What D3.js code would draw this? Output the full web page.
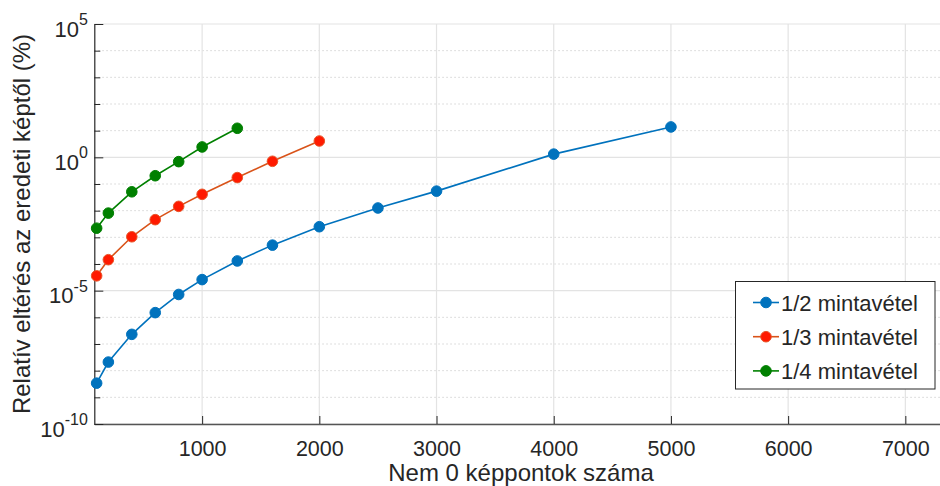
<!DOCTYPE html>
<html>
<head>
<meta charset="utf-8">
<script src="https://cdn.jsdelivr.net/npm/d3@7"></script>
<style>
  html, body { margin: 0; padding: 0; background: #fff; }
  svg { display: block; font-family: "Liberation Sans", Arial, sans-serif; }
</style>
</head>
<body>
<svg id="chart" width="940" height="486"></svg>
<script>
const svg = d3.select("#chart");
const width = 940;
const height = 486;

const margin = {
    "T": 24,
    "B": 62,
    "R": 0,
    "L": 94.3,
};

// ---- DATA ---- //

const seriesNames = ["1/2 mintavétel", "1/3 mintavétel", "1/4 mintavétel"];

const xHalf = [100, 200, 400, 600, 800, 1000, 1300, 1600, 2000, 2500, 3000, 4000, 5000];
const yHalf = [3.4e-9, 2.1e-8, 2.3e-7, 1.5e-6, 7.2e-6, 2.6e-5, 1.3e-4, 5.1e-4, 2.5e-3, 1.26e-2, 5.4e-2, 1.32, 13.8];

const xThird = [100, 200, 400, 600, 800, 1000, 1300, 1600, 2000];
const yThird = [3.6e-5, 1.45e-4, 1.05e-3, 4.6e-3, 1.45e-2, 4.1e-2, 0.174, 0.71, 4.1];

const xQuarter = [100, 200, 400, 600, 800, 1000, 1300];
const yQuarter = [2.2e-3, 8.1e-3, 5.1e-2, 0.204, 0.69, 2.45, 12.3];

const xTicks = [1000, 2000, 3000, 4000, 5000, 6000, 7000];
const yMajorExp = [-10, -5, 0, 5];
const yMinorExp = [-9, -8, -7, -6, -4, -3, -2, -1, 1, 2, 3, 4];

const xLabel = "Nem 0 képpontok száma";
const yLabel = "Relatív eltérés az eredeti képtől (%)";

const series = [
    { name: seriesNames[0], xs: xHalf, ys: yHalf, line: "#0072BD", fill: "#0072BD", edge: "#0072BD" },
    { name: seriesNames[1], xs: xThird, ys: yThird, line: "#D95319", fill: "#FF1A00", edge: "#E8562A" },
    { name: seriesNames[2], xs: xQuarter, ys: yQuarter, line: "#008000", fill: "#008000", edge: "#008000" },
];

// ---- SCALES ---- //

const xScale = d3.scaleLinear()
    .domain([80, 7300])
    .range([margin.L, 940.5]);
const yScale = d3.scaleLog()
    .domain([1e-10, 1e5])
    .range([height - margin.B, margin.T]);

const plotL = margin.L;
const plotR = 945;
const plotT = margin.T;
const plotB = height - margin.B;

// ---- GRID ---- //

const grid = svg.append("g");

yMinorExp.forEach(e => {
    grid.append("line")
        .attr("x1", plotL).attr("x2", plotR)
        .attr("y1", yScale(Math.pow(10, e))).attr("y2", yScale(Math.pow(10, e)))
        .attr("stroke", "#d4d4d4")
        .attr("stroke-width", 1)
        .attr("stroke-dasharray", "1.5,2.5");
});
yMajorExp.forEach(e => {
    grid.append("line")
        .attr("x1", plotL).attr("x2", plotR)
        .attr("y1", yScale(Math.pow(10, e))).attr("y2", yScale(Math.pow(10, e)))
        .attr("stroke", "#e3e3e3")
        .attr("stroke-width", 1.2);
});
xTicks.forEach(t => {
    grid.append("line")
        .attr("x1", xScale(t)).attr("x2", xScale(t))
        .attr("y1", plotT).attr("y2", plotB)
        .attr("stroke", "#e3e3e3")
        .attr("stroke-width", 1.2);
});

// ---- AXES ---- //

const xAxis = d3.axisBottom(xScale)
    .tickValues(xTicks)
    .tickSize(-8)
    .tickSizeOuter(0)
    .tickPadding(17)
    .tickFormat(d3.format("d"));

const gx = svg.append("g")
    .attr("transform", `translate(0, ${plotB})`)
    .call(xAxis);
gx.select(".domain").attr("stroke", "#555").attr("stroke-width", 1.4);
gx.selectAll(".tick line").attr("stroke", "#262626");
gx.selectAll(".tick text")
    .attr("fill", "#262626")
    .style("font-size", "21.5px")
    .attr("dy", "0.71em");

const yMinorAxis = d3.axisLeft(yScale)
    .tickValues(yMinorExp.map(e => Math.pow(10, e)))
    .tickSize(-6)
    .tickSizeOuter(0)
    .tickFormat("");
const gyMinor = svg.append("g")
    .attr("transform", `translate(${plotL}, 0)`)
    .call(yMinorAxis);
gyMinor.select(".domain").remove();
gyMinor.selectAll(".tick line").attr("stroke", "#262626");

const yAxis = d3.axisLeft(yScale)
    .tickValues(yMajorExp.map(e => Math.pow(10, e)))
    .tickSize(-9)
    .tickSizeOuter(0)
    .tickPadding(6)
    .tickFormat("");
const gy = svg.append("g")
    .attr("transform", `translate(${plotL}, 0)`)
    .call(yAxis);
gy.select(".domain").attr("stroke", "#262626").attr("stroke-width", 1.2);
gy.selectAll(".tick line").attr("stroke", "#262626");

// 10^n labels
gy.selectAll(".tick").each(function(d) {
    const e = Math.round(Math.log10(d));
    const t = d3.select(this).append("text")
        .attr("x", -6.5)
        .attr("y", 12)
        .attr("fill", "#262626")
        .attr("text-anchor", "end");
    t.append("tspan")
        .style("font-size", "22px")
        .text("10");
    t.append("tspan")
        .attr("dy", -11.5)
        .style("font-size", "16px")
        .text(e);
});

// ---- LINES ---- //

const line = d3.line()
    .x(d => xScale(d[0]))
    .y(d => yScale(d[1]));

series.forEach(s => {
    const pts = s.xs.map((x, i) => [x, s.ys[i]]);
    svg.append("path")
        .attr("d", line(pts))
        .attr("fill", "none")
        .attr("stroke", s.line)
        .attr("stroke-width", 1.6);
    svg.append("g")
        .selectAll("circle")
        .data(pts)
        .enter()
        .append("circle")
            .attr("cx", d => xScale(d[0]))
            .attr("cy", d => yScale(d[1]))
            .attr("r", 5.3)
            .attr("fill", s.fill)
            .attr("stroke", s.edge)
            .attr("stroke-width", 1);
});

// ---- LEGEND ---- //

const legend = svg.append("g");
legend.append("rect")
    .attr("x", 735.5).attr("y", 281.5)
    .attr("width", 199.5).attr("height", 107.5)
    .attr("fill", "#fff")
    .attr("stroke", "#262626")
    .attr("stroke-width", 1);

series.forEach((s, i) => {
    const cy = 302.5 + i * 34.2;
    legend.append("line")
        .attr("x1", 753).attr("x2", 779)
        .attr("y1", cy).attr("y2", cy)
        .attr("stroke", s.line)
        .attr("stroke-width", 1.6);
    legend.append("circle")
        .attr("cx", 766).attr("cy", cy)
        .attr("r", 5.3)
        .attr("fill", s.fill)
        .attr("stroke", s.edge);
    legend.append("text")
        .attr("x", 781)
        .attr("y", cy + 8)
        .attr("fill", "#262626")
        .style("font-size", "22px")
        .text(s.name);
});

// ---- LABELS ---- //

svg.append("text")
    .attr("x", 521)
    .attr("y", 481)
    .attr("text-anchor", "middle")
    .attr("fill", "#262626")
    .style("font-size", "24px")
    .text(xLabel);

svg.append("text")
    .attr("transform", `translate(30, ${(plotT + plotB) / 2}) rotate(-90)`)
    .attr("text-anchor", "middle")
    .attr("fill", "#262626")
    .style("font-size", "24px")
    .text(yLabel);
</script>
</body>
</html>
